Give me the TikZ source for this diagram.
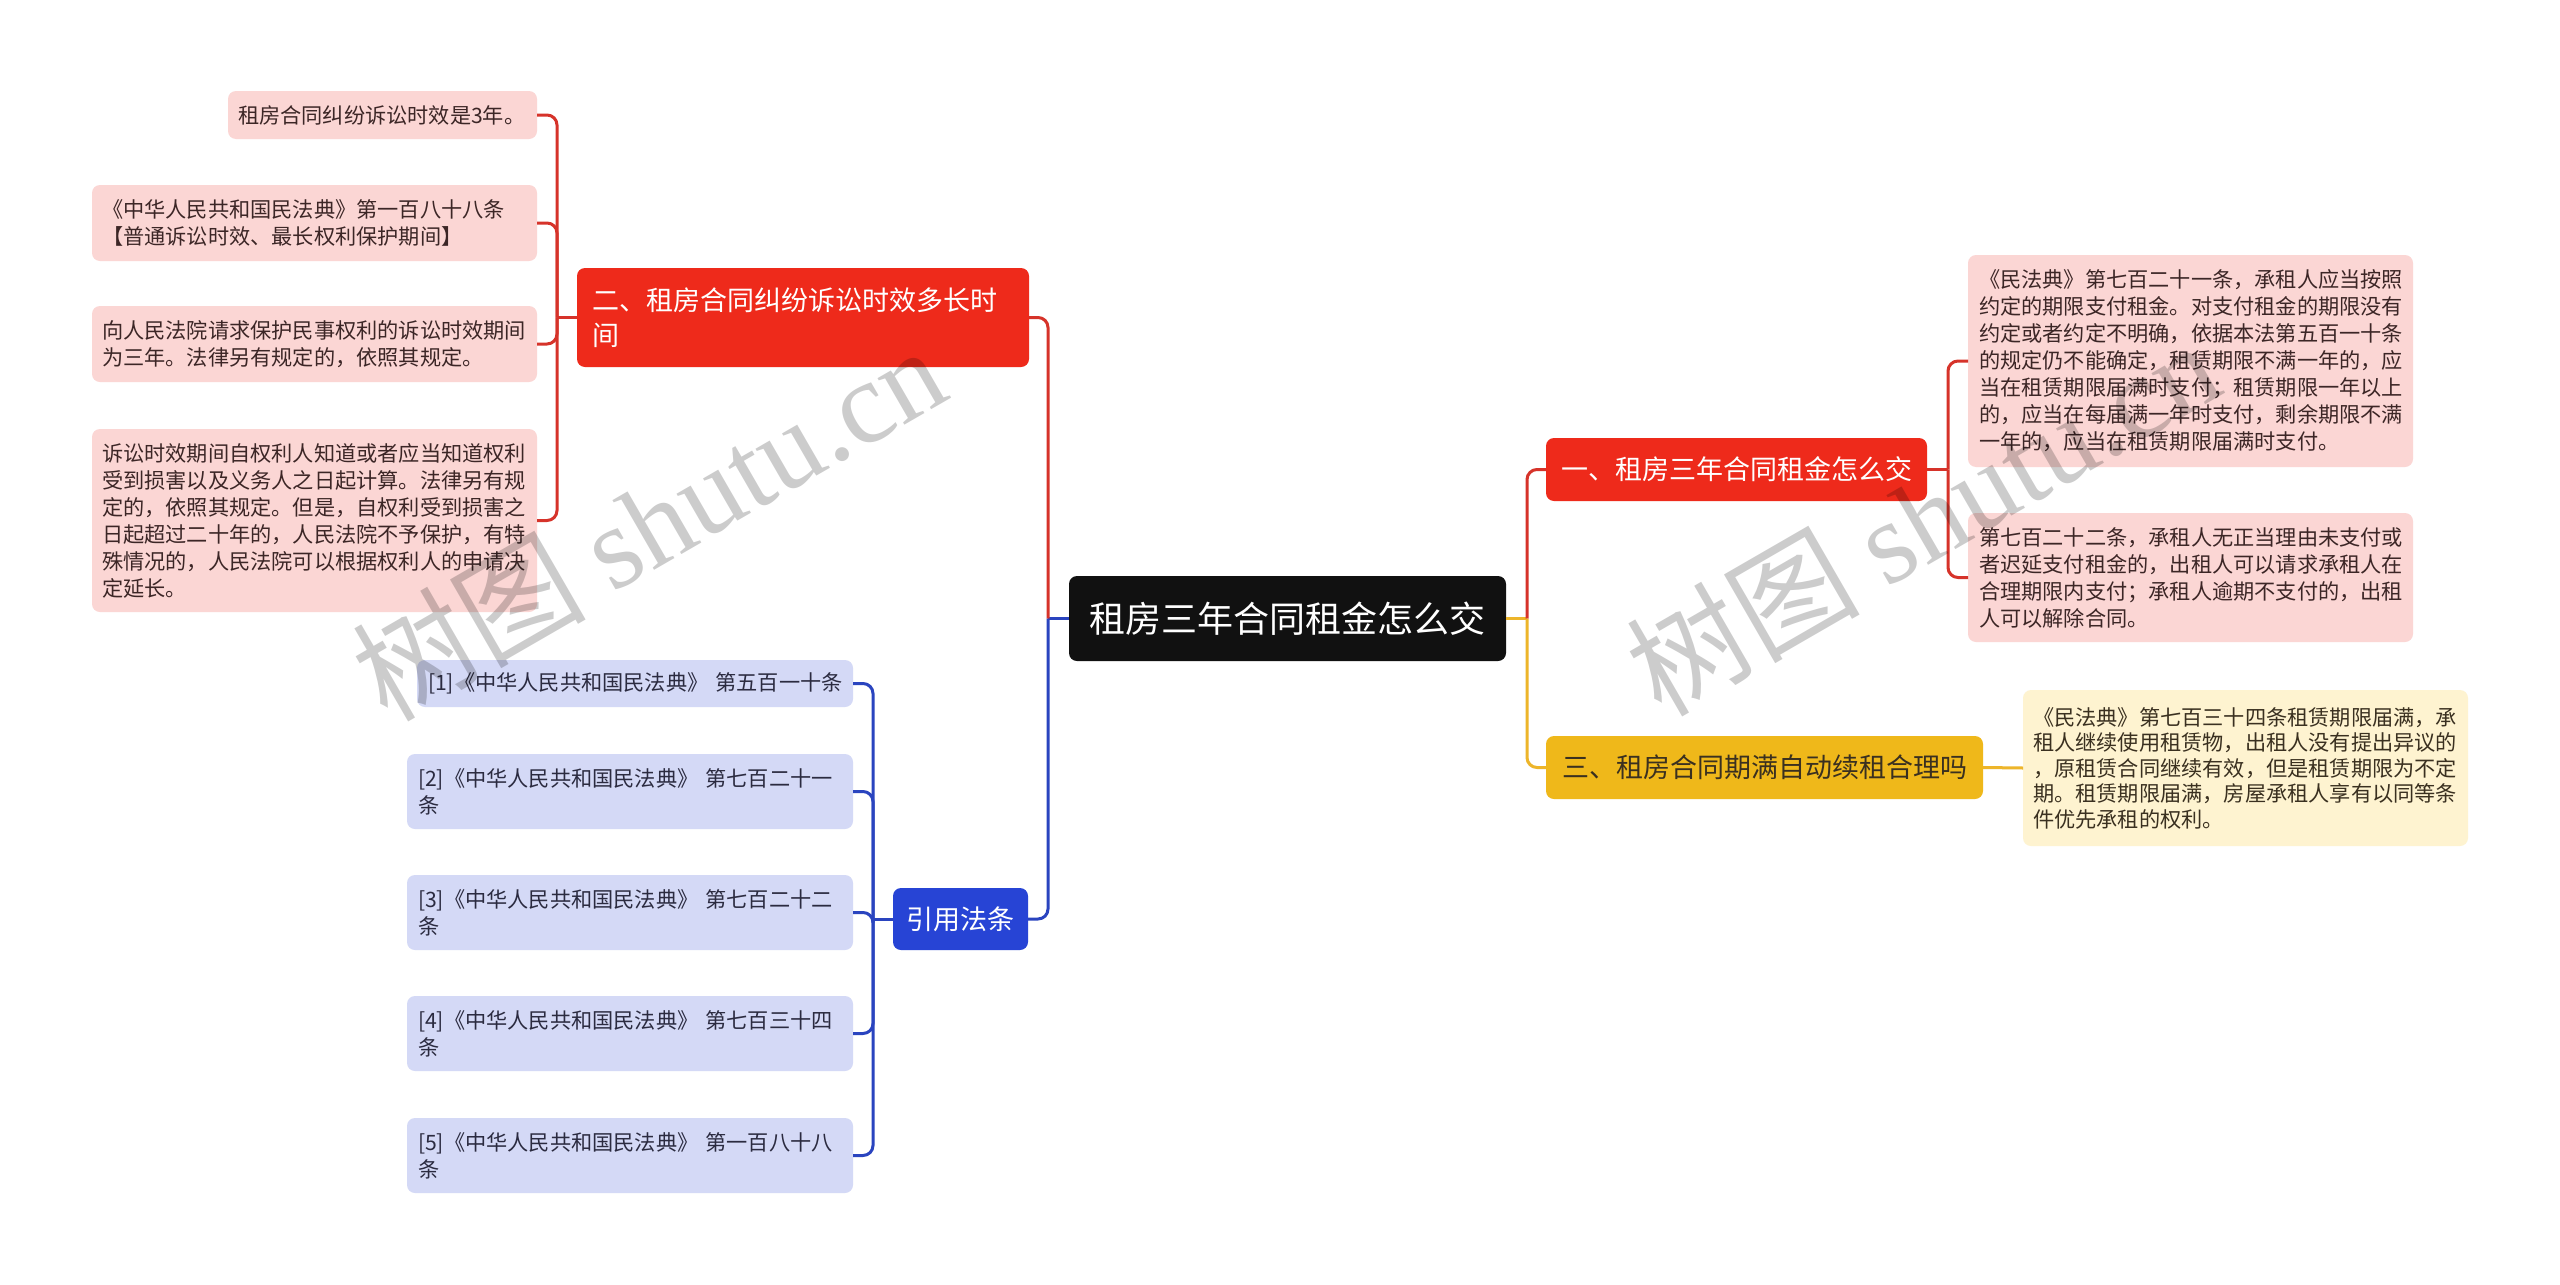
\documentclass[tikz,border=0pt]{standalone}
\usepackage{fontspec}
\setmainfont{Noto Sans CJK SC}
\newfontfamily\wmlatin{Liberation Serif}
\newfontfamily\wmcjk{Noto Sans CJK SC}
\newcommand\fLeaf{\fontsize{21.2}{27}\selectfont}
\newcommand\fLeafY{\fontsize{21.2}{25.5}\selectfont}
\newcommand\fTitle{\fontsize{27}{35}\selectfont}
\newcommand\fCenter{\fontsize{36}{42}\selectfont}
\newcommand\fWm{\fontsize{117}{120}\selectfont}
\definecolor{redN}{HTML}{EE2A1B}
\definecolor{redL}{HTML}{D6332A}
\definecolor{pinkF}{HTML}{FBD6D4}
\definecolor{pinkT}{HTML}{3C2626}
\definecolor{blueN}{HTML}{2744D5}
\definecolor{blueL}{HTML}{2A44BF}
\definecolor{blueF}{HTML}{D4D9F6}
\definecolor{blueT}{HTML}{2B2B40}
\definecolor{yelN}{HTML}{EFB81A}
\definecolor{yelL}{HTML}{EDB52A}
\definecolor{yelF}{HTML}{FEF3D0}
\definecolor{yelT}{HTML}{3A3020}
\definecolor{ctrF}{HTML}{111111}
\tikzset{
  base/.style={anchor=north west, inner ysep=0pt, rounded corners=8pt, outer sep=0pt},
  leafP/.style={base, fill=pinkF, text=pinkT, font=\fLeaf, align=left, inner xsep=10pt},
  leafB/.style={base, fill=blueF, text=blueT, font=\fLeaf, align=left, inner xsep=11pt},
  leafR/.style={base, fill=pinkF, text=pinkT, font=\fLeaf, align=left, inner xsep=11pt},
  leafY/.style={base, fill=yelF, text=yelT, font=\fLeafY, align=left, inner xsep=10pt},
  titleR/.style={base, fill=redN, text=white, font=\fTitle, inner xsep=0pt, align=center},
  titleB/.style={base, fill=blueN, text=white, font=\fTitle, inner xsep=0pt, align=center},
  titleY/.style={base, fill=yelN, text=yelT, font=\fTitle, inner xsep=0pt, align=center},
  centre/.style={base, fill=ctrF, text=white, font=\fCenter, inner xsep=0pt, align=center},
  conn/.style={line width=3pt},
  lred/.style={conn, draw=redL},
  lblue/.style={conn, draw=blueL},
  lyel/.style={conn, draw=yelL},
  rc/.style={rounded corners=10pt},
  wmark/.style={text=black, text opacity=0.2, font=\fWm, inner sep=0pt}
}
\begin{document}
\begin{tikzpicture}[x=1pt,y=-1pt]
\useasboundingbox (0,0) rectangle (2560,1285);
\fill[white] (0,0) rectangle (2560,1285);

% centre
\node[centre, minimum width=437pt, minimum height=85pt] (ctr) at (1069,576) {租房三年合同租金怎么交};

% left upper branch
\node[titleR, minimum height=99pt, text width=422pt, inner xsep=15pt, align=left] (n2) at (577,268) {二、租房合同纠纷诉讼时效多长时\\间};
\node[leafP, text width=289pt, minimum height=48pt] (l1) at (228,91) {租房合同纠纷诉讼时效是3年。};
\node[leafP, text width=425pt, minimum height=76pt] (l2) at (92,185) {《中华人民共和国民法典》第一百八十八条\\【普通诉讼时效、最长权利保护期间】};
\node[leafP, text width=425pt, minimum height=76pt] (l3) at (92,306) {向人民法院请求保护民事权利的诉讼时效期间\\为三年。法律另有规定的，依照其规定。};
\node[leafP, text width=425pt, minimum height=183pt] (l4) at (92,429) {诉讼时效期间自权利人知道或者应当知道权利\\受到损害以及义务人之日起计算。法律另有规\\定的，依照其规定。但是，自权利受到损害之\\日起超过二十年的，人民法院不予保护，有特\\殊情况的，人民法院可以根据权利人的申请决\\定延长。};

% left lower branch
\node[titleB, minimum width=135pt, minimum height=62pt] (cite) at (893,888) {引用法条};
\node[leafB, text width=414pt, minimum height=47pt] (c1) at (417,660) {[1]《中华人民共和国民法典》~第五百一十条};
\node[leafB, text width=424pt, minimum height=75pt] (c2) at (407,754) {[2]《中华人民共和国民法典》~第七百二十一\\条};
\node[leafB, text width=424pt, minimum height=75pt] (c3) at (407,875) {[3]《中华人民共和国民法典》~第七百二十二\\条};
\node[leafB, text width=424pt, minimum height=75pt] (c4) at (407,996) {[4]《中华人民共和国民法典》~第七百三十四\\条};
\node[leafB, text width=424pt, minimum height=75pt] (c5) at (407,1118) {[5]《中华人民共和国民法典》~第一百八十八\\条};

% right upper branch
\node[titleR, minimum width=381pt, minimum height=63pt] (n1) at (1546,438) {一、租房三年合同租金怎么交};
\node[leafR, text width=423pt, minimum height=212pt] (r1) at (1968,255) {《民法典》第七百二十一条，承租人应当按照\\约定的期限支付租金。对支付租金的期限没有\\约定或者约定不明确，依据本法第五百一十条\\的规定仍不能确定，租赁期限不满一年的，应\\当在租赁期限届满时支付；租赁期限一年以上\\的，应当在每届满一年时支付，剩余期限不满\\一年的，应当在租赁期限届满时支付。};
\node[leafR, text width=423pt, minimum height=129pt] (r2) at (1968,513) {第七百二十二条，承租人无正当理由未支付或\\者迟延支付租金的，出租人可以请求承租人在\\合理期限内支付；承租人逾期不支付的，出租\\人可以解除合同。};

% right lower branch
\node[titleY, minimum width=437pt, minimum height=63pt] (n3) at (1546,736) {三、租房合同期满自动续租合理吗};
\node[leafY, text width=425pt, minimum height=156pt] (yl) at (2023,690) {《民法典》第七百三十四条租赁期限届满，承\\租人继续使用租赁物，出租人没有提出异议的\\，原租赁合同继续有效，但是租赁期限为不定\\期。租赁期限届满，房屋承租人享有以同等条\\件优先承租的权利。};

% junction coordinates
\coordinate (jl) at ([xshift=-21pt]ctr.west);
\coordinate (jr) at ([xshift=21pt]ctr.east);
\coordinate (b2) at ([xshift=-20pt]n2.west);
\coordinate (bc) at ([xshift=-20pt]cite.west);
\coordinate (b1) at ([xshift=21pt]n1.east);

% connectors
\draw[lblue] (ctr.west) -- (jl);
\draw[lred, rc] (jl) |- (n2.east);
\draw[lblue, rc] (jl) |- (cite.east);
\draw[lyel] (ctr.east) -- (jr);
\draw[lred, rc] (jr) |- (n1.west);
\draw[lyel, rc] (jr) |- (n3.west);

\draw[lred] (n2.west) -- (b2);
\foreach \t in {l1,l2,l3,l4} \draw[lred, rc] (b2) |- (\t.east);

\draw[lblue] (cite.west) -- (bc);
\foreach \t in {c1,c2,c3,c4,c5} \draw[lblue, rc] (bc) |- (\t.east);

\draw[lred] (n1.east) -- (b1);
\foreach \t in {r1,r2} \draw[lred, rc] (b1) |- (\t.west);

\draw[lyel] (n3.east) -- (yl.west);

% watermarks
\node[wmark, rotate=30] (wm1) at (648,522) {{\wmcjk 树图} {\wmlatin shutu.cn}};
\node[wmark, rotate=30] (wm2) at (1922,517) {{\wmcjk 树图} {\wmlatin shutu.cn}};
\end{tikzpicture}
\end{document}
